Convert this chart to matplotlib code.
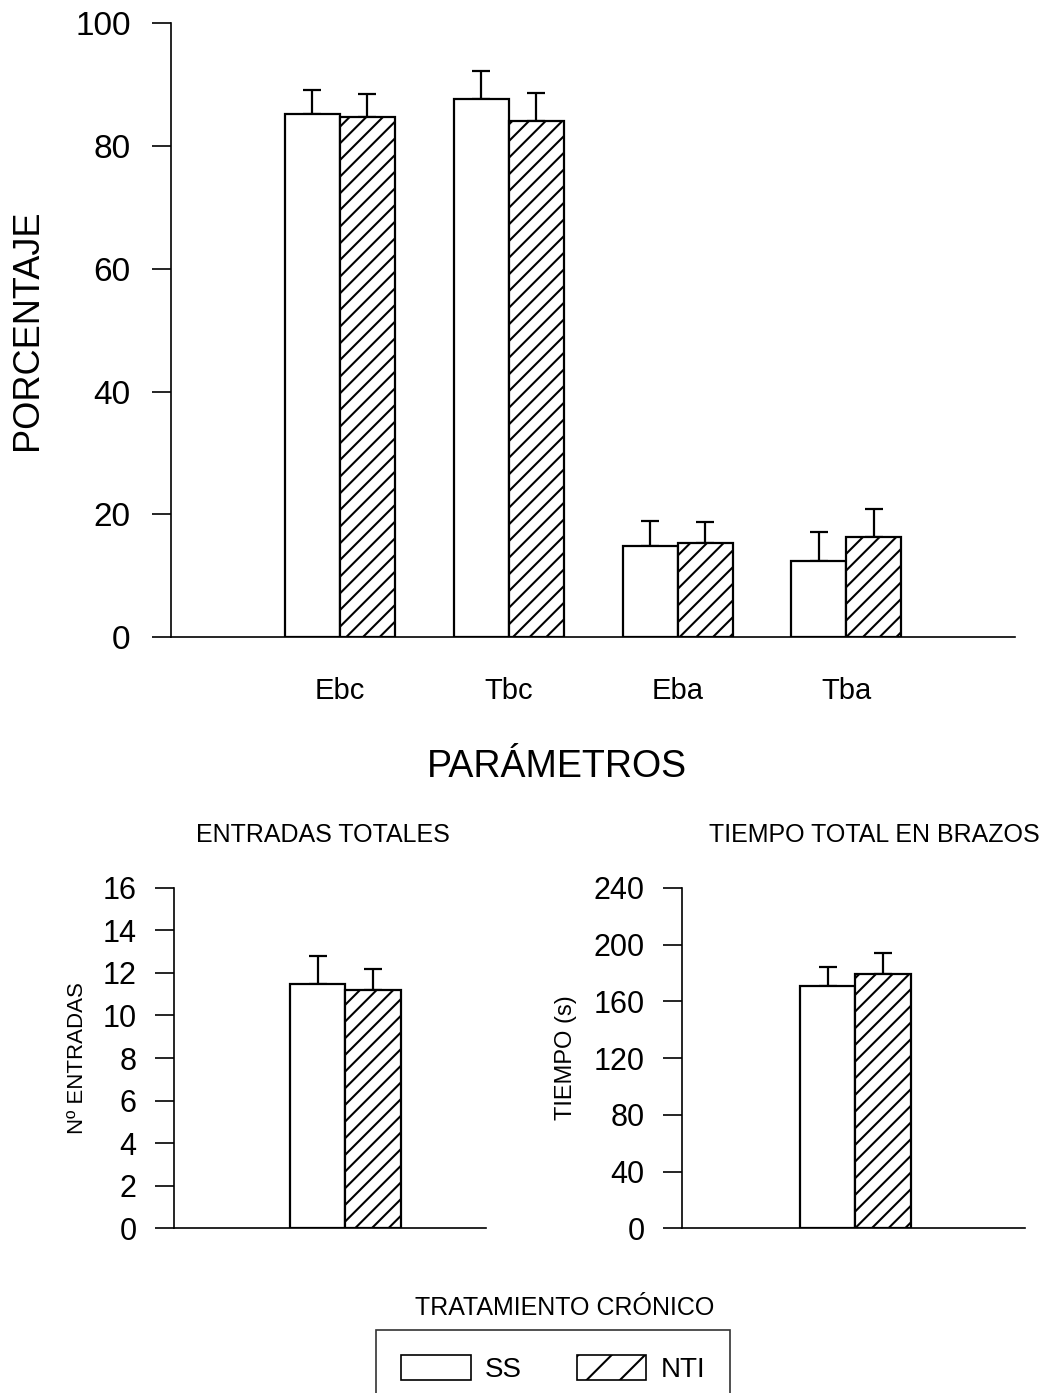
import matplotlib
matplotlib.use("Agg")
import matplotlib.pyplot as plt
import matplotlib.patches as patches
import numpy as np

plt.rcParams["font.family"] = ["Liberation Sans", "DejaVu Sans"]
plt.rcParams["hatch.linewidth"] = 1.5
plt.rcParams["hatch.color"] = "black"

# Porcentaje de entradas / tiempo en brazos cerrados y abiertos
parametros = ["Ebc", "Tbc", "Eba", "Tba"]
ss_pct = [85.2, 87.7, 14.9, 12.4]
ss_pct_err = [4.0, 4.6, 4.0, 4.7]
nti_pct = [84.7, 84.0, 15.3, 16.3]
nti_pct_err = [3.7, 4.6, 3.5, 4.6]

# Entradas totales
ss_entradas, ss_entradas_err = 11.48, 1.30
nti_entradas, nti_entradas_err = 11.18, 1.01

# Tiempo total en brazos (s)
ss_tiempo, ss_tiempo_err = 171.0, 13.4
nti_tiempo, nti_tiempo_err = 179.0, 14.7

grupos = ["SS", "NTI"]

BAR_W = 0.326
EDGE_LW = 1.6
SPINE_LW = 1.2

fig = plt.figure(figsize = (10.62, 13.93), dpi = 100)


# Draws an SS / NTI pair of bars with upper error bars at position x
def draw_pair(ax, x, ss, ss_err, nti, nti_err):
    x = np.atleast_1d(x).astype(float)
    ss = np.atleast_1d(ss)
    nti = np.atleast_1d(nti)
    ss_err = np.atleast_1d(ss_err)
    nti_err = np.atleast_1d(nti_err)
    x_ss = x - BAR_W / 2
    x_nti = x + BAR_W / 2
    for xs, vals, errs, hatch in [(x_ss, ss, ss_err, None), (x_nti, nti, nti_err, "//")]:
        ax.errorbar(xs, vals, yerr = [np.zeros_like(errs), errs], fmt = "none",
                    ecolor = "black", elinewidth = 1.6, capsize = 6.8, capthick = 1.6, zorder = 1)
        ax.bar(xs, vals, width = BAR_W, color = "white", edgecolor = "black",
               linewidth = EDGE_LW, hatch = hatch, zorder = 2)


def style_axes(ax, fontsize, pad):
    for side in ["top", "right"]:
        ax.spines[side].set_visible(False)
    ax.spines["left"].set_linewidth(SPINE_LW)
    ax.spines["bottom"].set_linewidth(SPINE_LW)
    ax.tick_params(axis = "y", direction = "out", length = 14, width = SPINE_LW,
                   labelsize = fontsize, pad = pad)


# Top panel: percentages
ax_top = fig.add_axes([0.161, 0.5427, 0.795, 0.4406])
pos = np.arange(1, len(parametros) + 1)
draw_pair(ax_top, pos, ss_pct, ss_pct_err, nti_pct, nti_pct_err)
ax_top.set_xlim(0, 5)
ax_top.set_ylim(0, 100)
ax_top.set_yticks(np.arange(0, 101, 20))
ax_top.set_xticks(pos)
ax_top.set_xticklabels(parametros)
style_axes(ax_top, 24, 15)
ax_top.tick_params(axis = "x", length = 0, labelsize = 21, pad = 29)
fig.text(28 / 1062, 1 - 330 / 1393, "PORCENTAJE", rotation = 90, fontsize = 26,
         ha = "center", va = "center")
fig.text(557 / 1062, 1 - 767 / 1393, "PARÁMETROS", fontsize = 27, ha = "center", va = "center")

# Bottom left: total entries
ax_ent = fig.add_axes([0.1638, 0.1182, 0.2938, 0.2445])
draw_pair(ax_ent, 0, ss_entradas, ss_entradas_err, nti_entradas, nti_entradas_err)
ax_ent.set_xlim(-1.01, 0.83)
ax_ent.set_ylim(0, 16)
ax_ent.set_yticks(np.arange(0, 17, 2))
ax_ent.set_xticks([])
style_axes(ax_ent, 22, 13)
ax_ent.set_ylabel("Nº ENTRADAS", fontsize = 16, labelpad = 10)
fig.text(323 / 1062, 1 - 835 / 1393, "ENTRADAS TOTALES", fontsize = 18, ha = "center", va = "center")

# Bottom right: total time in arms
ax_tie = fig.add_axes([0.6422, 0.1182, 0.323, 0.2445])
draw_pair(ax_tie, 0, ss_tiempo, ss_tiempo_err, nti_tiempo, nti_tiempo_err)
ax_tie.set_xlim(-1.02, 1.0)
ax_tie.set_ylim(0, 240)
ax_tie.set_yticks(np.arange(0, 241, 40))
ax_tie.set_xticks([])
style_axes(ax_tie, 22, 13)
ax_tie.set_ylabel("TIEMPO (s)", fontsize = 17, labelpad = 12)
fig.text(874 / 1062, 1 - 835 / 1393, "TIEMPO TOTAL EN BRAZOS", fontsize = 18, ha = "center", va = "center")

# Legend for chronic treatment
handles = [patches.Patch(facecolor = "white", edgecolor = "black", linewidth = 1.2),
           patches.Patch(facecolor = "white", edgecolor = "black", linewidth = 1.2, hatch = "/")]
leg = fig.legend(handles, grupos, loc = "upper center", bbox_to_anchor = (553 / 1062, 1 - 1330 / 1393),
                 ncol = 2, fontsize = 20, frameon = True, fancybox = False, handlelength = 2.5,
                 handleheight = 1.0, handletextpad = 0.5, columnspacing = 2.0, borderpad = 0.9,
                 borderaxespad = 0)
leg.get_frame().set_edgecolor("black")
leg.get_frame().set_linewidth(1.2)
fig.text(565 / 1062, 1 - 1308 / 1393, "TRATAMIENTO CRÓNICO", fontsize = 18, ha = "center", va = "center")

fig.savefig("out.png", dpi = 100)
